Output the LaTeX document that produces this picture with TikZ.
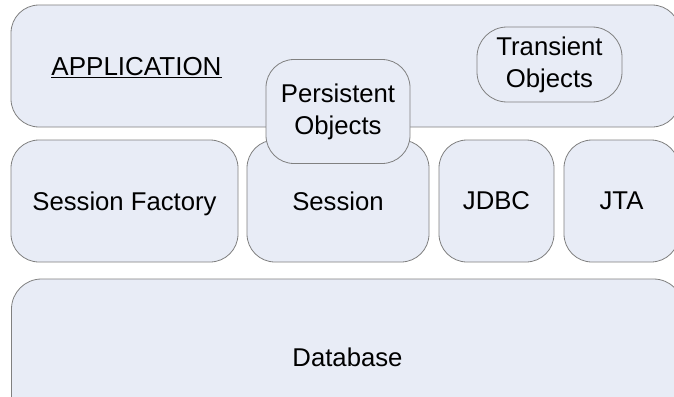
\documentclass[tikz,border=0pt]{standalone}
\usepackage{fontspec}
\setmainfont{Liberation Sans}
\definecolor{boxfill}{RGB}{232,236,246}
\definecolor{boxline}{RGB}{128,128,128}
\tikzset{
  layer/.style={draw=boxline, fill=boxfill, line width=0.8pt, rectangle,
    rounded corners=28pt, inner sep=0pt, align=center,
    font=\fontsize{25.7}{32}\selectfont},
  label/.style={inner sep=0pt, font=\fontsize{26}{32}\selectfont}
}
\begin{document}
\begin{tikzpicture}[x=1pt, y=-1pt]
  \clip (0,0) rectangle (674,396);
  \fill[white] (0,0) rectangle (674,396);
  % application layer
  \node[layer, minimum width=669pt, minimum height=122pt] (app) at (345.5,66) {};
  \node[label] (applabel) at (136.5,68) {\underline{APPLICATION}};
  \node[layer, minimum width=145pt, minimum height=75pt, rounded corners=30pt]
    (transient) at (549.5,64.5) {Transient\\Objects};
  % middle layer
  \node[layer, minimum width=227pt, minimum height=122pt, text depth=0pt] (factory) at (124.5,201) {Session Factory};
  \node[layer, minimum width=182pt, minimum height=122pt] (session) at (338,201) {Session};
  \node[layer, minimum width=115pt, minimum height=122pt] (jdbc) at (496.5,201) {JDBC};
  \node[layer, minimum width=115pt, minimum height=122pt] (jta) at (621.5,201) {JTA};
  % persistent objects sit across the application and session
  \node[layer, minimum width=144pt, minimum height=104pt] (persistent) at (338,111.5) {Persistent\\Objects};
  % database layer
  \node[layer, minimum width=672pt, minimum height=156pt, rounded corners=30pt] (db) at (347.5,357) {Database};
\end{tikzpicture}
\end{document}
